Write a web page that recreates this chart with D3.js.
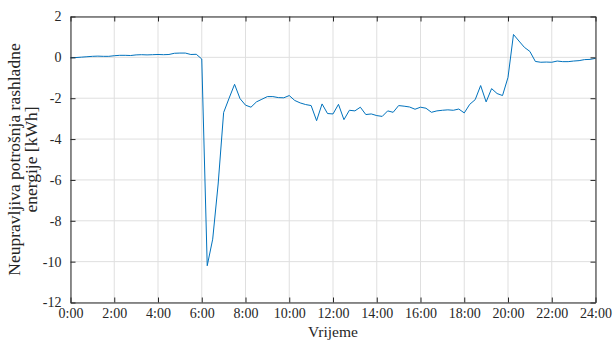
<!DOCTYPE html>
<html>
<head>
<meta charset="utf-8">
<script src="https://cdn.jsdelivr.net/npm/d3@7"></script>
<style>
html,body{margin:0;padding:0;background:#fff;}
svg text{font-family:"Liberation Serif","DejaVu Serif",serif;fill:#262626;}
</style>
</head>
<body>
<svg id="chart" width="614" height="340"></svg>
<script>
// time in hours (15-minute steps)
const hours = d3.range(0, 24.01, 0.25);
const values = [
  -0.02,-0.01,0.01,0.03,0.05,0.06,0.05,0.05,
  0.08,0.10,0.10,0.09,0.12,0.13,0.12,0.13,
  0.14,0.13,0.14,0.20,0.21,0.21,0.14,0.15,
  -0.08,-10.2,-8.9,-6.2,-2.7,-2.0,-1.32,-2.02,
  -2.34,-2.44,-2.18,-2.05,-1.92,-1.92,-1.97,-1.98,
  -1.87,-2.11,-2.23,-2.31,-2.36,-3.1,-2.28,-2.75,
  -2.77,-2.3,-3.05,-2.59,-2.62,-2.44,-2.8,-2.77,
  -2.85,-2.89,-2.62,-2.69,-2.36,-2.39,-2.43,-2.54,
  -2.44,-2.49,-2.69,-2.62,-2.59,-2.57,-2.59,-2.53,
  -2.72,-2.3,-2.07,-1.38,-2.18,-1.53,-1.77,-1.87,
  -0.98,1.12,0.80,0.49,0.29,-0.2,-0.24,-0.23,
  -0.24,-0.18,-0.21,-0.21,-0.18,-0.16,-0.11,-0.1,
  -0.05
];
const xTicks = d3.range(0, 25, 2);
const xTickLabels = xTicks.map(h => h + ":00");
const yTicks = [2,0,-2,-4,-6,-8,-10,-12];
const yLabelLines = ["Neupravljiva potrošnja rashladne", "energije [kWh]"];
const xLabel = "Vrijeme";

const FONT = '"Liberation Serif","DejaVu Serif",serif';
const svg = d3.select("#chart");
const L = 70.5, R = 595.5, T = 16.5, B = 302.5;
const x = d3.scaleLinear().domain([0,24]).range([L,R]);
const y = d3.scaleLinear().domain([-12,2]).range([B,T]);
const gridCol = "#dfdfdf", axCol = "#262626";

// grid
const g = svg.append("g");
g.selectAll(".vg").data(xTicks).join("line")
  .attr("x1", d=>x(d)).attr("x2", d=>x(d)).attr("y1", T).attr("y2", B)
  .attr("stroke", gridCol).attr("stroke-width", 1);
g.selectAll(".hg").data(yTicks).join("line")
  .attr("y1", d=>y(d)).attr("y2", d=>y(d)).attr("x1", L).attr("x2", R)
  .attr("stroke", gridCol).attr("stroke-width", 1);

// line
const data = hours.map((h,i)=>({h, v: values[i]}));
svg.append("path").datum(data)
  .attr("fill","none").attr("stroke","#0072BD").attr("stroke-width",1)
  .attr("stroke-linejoin","round")
  .attr("d", d3.line().x(d=>x(d.h)).y(d=>y(d.v)));

// axes (inward ticks, box)
const tk = 5;
const fmtX = d=>xTickLabels[xTicks.indexOf(d)];
svg.append("g").attr("transform",`translate(0,${B})`)
  .call(d3.axisBottom(x).tickValues(xTicks).tickFormat(fmtX).tickSizeInner(-tk).tickSizeOuter(0).tickPadding(6))
  .call(s=>{s.select(".domain").attr("stroke",axCol);s.selectAll("line").attr("stroke",axCol);
    s.selectAll("text").attr("font-size",14).style("font-family",FONT).attr("fill",axCol);});
svg.append("g").attr("transform",`translate(0,${T})`)
  .call(d3.axisTop(x).tickValues(xTicks).tickFormat("").tickSizeInner(-tk).tickSizeOuter(0))
  .call(s=>{s.select(".domain").attr("stroke",axCol);s.selectAll("line").attr("stroke",axCol);});
svg.append("g").attr("transform",`translate(${L},0)`)
  .call(d3.axisLeft(y).tickValues(yTicks).tickFormat(d=>d).tickSizeInner(-tk).tickSizeOuter(0).tickPadding(9))
  .call(s=>{s.select(".domain").attr("stroke",axCol);s.selectAll("line").attr("stroke",axCol);
    s.selectAll("text").attr("font-size",14).style("font-family",FONT).attr("fill",axCol);});
svg.append("g").attr("transform",`translate(${R},0)`)
  .call(d3.axisRight(y).tickValues(yTicks).tickFormat("").tickSizeInner(-tk).tickSizeOuter(0))
  .call(s=>{s.select(".domain").attr("stroke",axCol);s.selectAll("line").attr("stroke",axCol);});

// labels
svg.append("text").attr("x",333).attr("y",336.5).attr("text-anchor","middle")
  .attr("font-size",15.5).style("font-family",FONT).text(xLabel);
const yl = svg.append("text").attr("transform",`translate(0,${(T+B)/2}) rotate(-90)`)
  .attr("text-anchor","middle").attr("font-size",17.5).style("font-family",FONT);
yLabelLines.forEach((t,i)=>yl.append("tspan").attr("x",0).attr("y",20+i*17).text(t));
</script>
</body>
</html>
